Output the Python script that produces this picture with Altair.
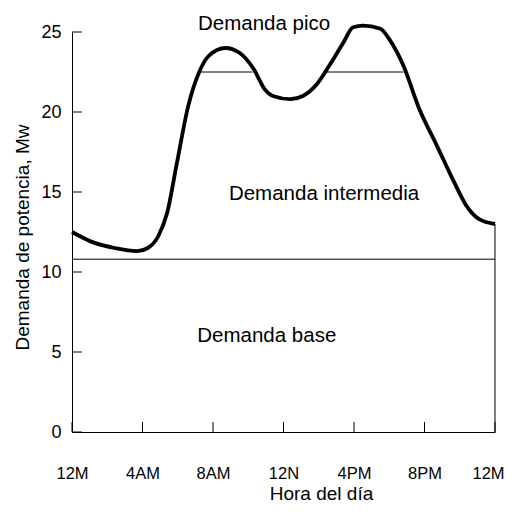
import altair as alt
import pandas as pd

# Load curve (hour of day, demand MW)
hours = [0, 1.2, 2.4, 3.7, 4.3, 4.9, 5.4, 5.95, 6.6, 7.2, 7.75, 8.7, 9.5, 10.3,
         10.95, 11.4, 12.4, 13.1, 13.9, 14.6, 15.4, 15.95, 16.5, 17.5, 18.0,
         18.8, 19.7, 20.7, 21.6, 22.4, 23.1, 24]
load = [12.5, 11.85, 11.5, 11.3, 11.5, 12.25, 13.7, 16.8, 20.4, 22.45, 23.5,
        24.0, 23.7, 22.7, 21.4, 21.0, 20.8, 21.0, 21.75, 22.9, 24.35, 25.3,
        25.4, 25.2, 24.55, 22.9, 20.2, 17.9, 15.8, 14.1, 13.3, 13.0]

# Reference lines
base_level = 10.8
peak_level = 22.5
peak_start = [7.25, 14.45]
peak_end = [10.25, 18.8]
end_hour = 24
end_level = 13.0

# Axis ticks / labels
x_ticks = [0, 4, 8, 12, 16, 20, 24]
x_labels = ["12M", "4AM", "8AM", "12N", "4PM", "8PM", "12M"]
y_ticks = [0, 5, 10, 15, 20, 25]

# Annotations
ann_text = ["Demanda pico", "Demanda intermedia", "Demanda base"]
ann_x = [10.9, 14.3, 11.05]
ann_y = [25.1, 14.5, 5.65]

FONT = "Liberation Sans"
W, H = 423, 400

curve = pd.DataFrame({"h": hours, "mw": load})
xs = alt.Scale(domain=[0, 24], nice=False)
ys = alt.Scale(domain=[0, 25], nice=False)

label_expr = "[" + ",".join("'" + l + "'" for l in x_labels) + "][datum.value/4]"

line = alt.Chart(curve).mark_line(
    color="black", strokeWidth=3.8, interpolate="monotone", clip=False
).encode(
    x=alt.X("h:Q", scale=xs,
            axis=alt.Axis(values=x_ticks, labelExpr=label_expr, ticks=False,
                          grid=False, domainColor="black", labelPadding=46,
                          labelBaseline="alphabetic", labelFlush=False,
                          labelOffset={"condition": {"test": "datum.value == 24", "value": -7},
                                       "value": 0},
                          labelFontSize=16.5, labelFont=FONT, labelColor="black",
                          title="Hora del día", titleFont=FONT,
                          titleFontSize=19, titleFontWeight="normal",
                          titleColor="black", titlePadding=3,
                          titleX=249, titleAlign="center")),
    y=alt.Y("mw:Q", scale=ys,
            axis=alt.Axis(values=y_ticks, ticks=False, grid=False,
                          domainColor="black", labelPadding=11,
                          labelFontSize=18, labelFont=FONT, labelColor="black",
                          title="Demanda de potencia, Mw", titleFont=FONT,
                          titleFontSize=19, titleFontWeight="normal",
                          titleColor="black", titlePadding=8,
                          titleY=205, titleAlign="center")),
)

base = alt.Chart(pd.DataFrame({"x1": [0], "x2": [24], "y": [base_level]})).mark_rule(
    color="black", strokeWidth=1
).encode(x=alt.X("x1:Q", scale=xs), x2="x2:Q", y=alt.Y("y:Q", scale=ys))

peaks = alt.Chart(pd.DataFrame({"x1": peak_start, "x2": peak_end,
                                "y": [peak_level] * len(peak_start)})).mark_rule(
    color="black", strokeWidth=1
).encode(x=alt.X("x1:Q", scale=xs), x2="x2:Q", y=alt.Y("y:Q", scale=ys))

right_edge = alt.Chart(pd.DataFrame({"x": [end_hour], "y1": [0], "y2": [end_level]})).mark_rule(
    color="black", strokeWidth=1
).encode(x=alt.X("x:Q", scale=xs), y=alt.Y("y1:Q", scale=ys), y2="y2:Q")

ytick_marks = alt.Chart(pd.DataFrame({"v": y_ticks})).mark_rule(
    color="black", strokeWidth=1
).encode(y=alt.Y("v:Q", scale=ys), x=alt.value(0), x2=alt.value(10))

xtick_marks = alt.Chart(pd.DataFrame({"v": x_ticks})).mark_rule(
    color="black", strokeWidth=1
).encode(x=alt.X("v:Q", scale=xs), y=alt.value(H), y2=alt.value(H - 10))

ann = alt.Chart(pd.DataFrame({"t": ann_text, "x": ann_x, "y": ann_y})).mark_text(
    font=FONT, fontSize=20.5, color="black", align="center", baseline="alphabetic"
).encode(x=alt.X("x:Q", scale=xs), y=alt.Y("y:Q", scale=ys), text="t:N")

chart = alt.layer(base, peaks, right_edge, ytick_marks, xtick_marks, line, ann).properties(
    width=W, height=H,
    autosize=alt.AutoSizeParams(type="none"),
    padding={"left": 64, "top": 24, "right": 10, "bottom": 77},
).configure_view(stroke=None)

chart.save("out.html", embed_options={"renderer": "svg", "actions": False})
